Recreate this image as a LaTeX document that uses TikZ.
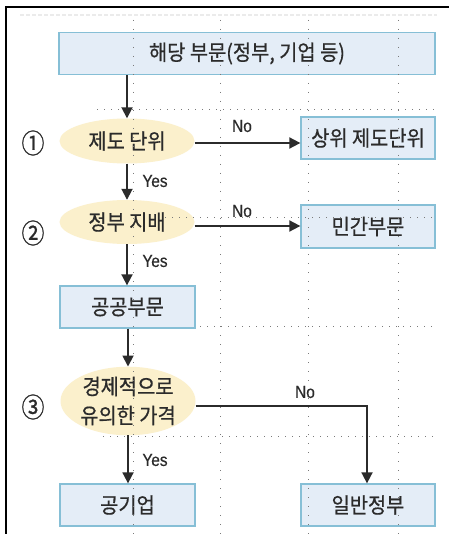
\documentclass[tikz,border=0pt]{standalone}
\usepackage{fontspec}
\setmainfont{Liberation Sans}
\newfontfamily\kr[FakeBold=0.6,FakeStretch=0.92]{Noto Sans CJK KR}
\newfontfamily\krnum[FakeBold=0.8,FakeStretch=0.85]{Noto Sans CJK KR}
\newfontfamily\lat[FakeBold=0.4,FakeStretch=0.88]{Liberation Sans}
\usetikzlibrary{arrows.meta,shapes.geometric,calc}
\definecolor{boxfill}{HTML}{E4EDF7}
\definecolor{boxline}{HTML}{86BFD6}
\definecolor{ellfill}{HTML}{FBF0CC}
\definecolor{ink}{HTML}{2B2B2B}
\definecolor{dotc}{HTML}{7A7A7A}
\begin{document}
\begin{tikzpicture}[x=1pt,y=-1pt,
  box/.style={draw=boxline, fill=boxfill, line width=1.3pt, inner sep=0pt,
    minimum height=42pt, font=\kr\fontsize{21.5}{22}\selectfont, text=ink},
  ell/.style={ellipse, fill=ellfill, draw=none, inner sep=0pt,
    minimum width=135pt, font=\kr\fontsize{21.5}{22}\selectfont, text=ink},
  arr/.style={draw=ink, line width=1.8pt, -{Triangle[length=11pt,width=11pt]}},
  lbl/.style={font=\lat\fontsize{17.5}{18}\selectfont, text=ink, inner sep=0pt},
  num/.style={font=\krnum\fontsize{27}{27}\selectfont, text=ink, inner sep=0pt},
  griddot/.style={dotc, line width=1pt, dash pattern=on 1pt off 8pt},
  griddoth/.style={dotc, line width=1pt, dash pattern=on 1pt off 6pt},
]
\useasboundingbox (0,0) rectangle (449,534);
\fill[white] (0,0) rectangle (449,534);
% frame
\draw[black, line width=1.5pt] (6,534) -- (6,7) -- (449,7);
\draw[black!8, line width=1.5pt, dash pattern=on 4pt off 2pt] (20,15) -- (437,15);

% nodes
\node[box, minimum width=376pt] (top) at (247,53.5) {해당 부문(정부, 기업 등)};
\node[ell, minimum height=45pt] (e1) at (127,141) {제도 단위};
\node[box, minimum width=134pt] (b1) at (368,138) {상위 제도단위};
\node[ell, minimum height=44pt] (e2) at (127,222) {정부 지배};
\node[box, minimum width=134pt, minimum height=43pt] (b2) at (368,226.5) {민간부문};
\node[box, minimum width=135pt] (pub) at (127.5,307) {공공부문};
\node[ell, minimum height=68pt, align=center, font=\kr\fontsize{21.5}{29}\selectfont] (e3) at (128,401) {경제적으로\\유의한 가격};
\node[box, minimum width=135pt] (pe) at (127.5,505) {공기업};
\node[box, minimum width=134pt] (gg) at (368,505) {일반정부};

% grid dots
\foreach \gx in {133,220,308,398} \draw[griddot] (\gx,20) -- (\gx,534);
\draw[griddoth] (97,110) -- (437,110);
\draw[griddoth] (165,218) -- (437,218);
\draw[griddoth] (200,326) -- (437,326);
\draw[griddoth] (103,436) -- (437,436);

% circled numbers
\node[num] (n1) at (33,143) {①};
\node[num] (n2) at (33,233) {②};
\node[num] (n3) at (33,407) {③};

% arrows
\draw[arr] (top.south -| e1.north) -- (e1.north);
\draw[arr] (e1.south) -- (e2.north);
\draw[arr] (e2.south) -- (pub.north -| e2.south);
\draw[arr] (pub.south -| e3.north) -- (e3.north);
\draw[arr] (e3.south) -- (pe.north -| e3.south);
\draw[arr] ($(e1.east)+(0,2)$) -- ($(b1.west |- e1.east)+(0,2)$);
\draw[arr] ($(e2.east)+(0,4)$) -- ($(b2.west |- e2.east)+(0,4)$);
\coordinate (c3) at ($(gg.north)+(-1,0)$);
\draw[arr] ($(e3.east)+(0,5)$) -| (c3);

% labels
\node[lbl] (no1) at (242,126) {No};
\node[lbl] (no2) at (242,211) {No};
\node[lbl] (no3) at (305,392) {No};
\node[lbl] (y1) at (155,181) {Yes};
\node[lbl] (y2) at (155,261) {Yes};
\node[lbl] (y3) at (155,460) {Yes};
\end{tikzpicture}
\end{document}
